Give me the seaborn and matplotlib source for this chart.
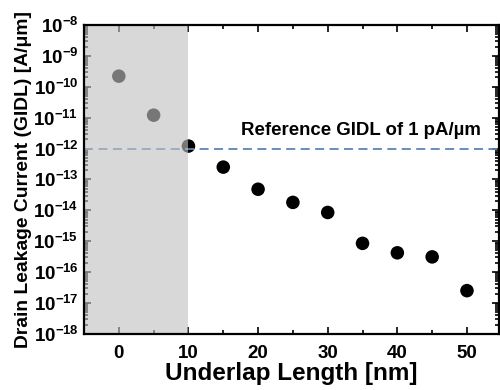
import numpy as np
import pandas as pd
import seaborn as sns
import matplotlib
matplotlib.use("Agg")
from matplotlib import pyplot as plt
from matplotlib import ticker

# data
underlap_nm = [0, 5, 10, 15, 20, 25, 30, 35, 40, 45, 50]
gidl_a_per_um = [2.2e-10, 1.2e-11, 1.2e-12, 2.5e-13, 4.8e-14, 1.8e-14,
                 8.5e-15, 8.5e-16, 4.2e-16, 3.1e-16, 2.5e-17]
ref_gidl = 1e-12
shade_span = [-5, 10]
y_decades = list(range(-18, -7))

df = pd.DataFrame({"x": underlap_nm, "y": gidl_a_per_um})

sns.set_style("ticks")
plt.rcParams["font.family"] = ["Liberation Sans", "DejaVu Sans"]
plt.rcParams["mathtext.fontset"] = "custom"
plt.rcParams["mathtext.bf"] = "Liberation Sans:bold"
plt.rcParams["mathtext.rm"] = "Liberation Sans:bold"
for k in ["text.color", "axes.labelcolor", "xtick.color", "ytick.color", "axes.edgecolor"]:
    plt.rcParams[k] = "black"

fig = plt.figure(figsize=(5, 3.9), dpi=100)
ax = fig.add_axes([0.168, 0.144, 0.830, 0.792])

sns.scatterplot(data=df, x="x", y="y", ax=ax, color="black", s=95,
                edgecolor="none", zorder=2)

ax.axhline(ref_gidl, color="#5a86b5", lw=1.3, ls=(0, (5, 3)), zorder=3)
# translucent grey box over the points below 10 nm
ax.axvspan(shade_span[0], shade_span[1], color="#c1c1c1", alpha=0.62,
           lw=0, zorder=4)

ax.set_yscale("log")
ax.set_ylim(1e-18, 1e-8)
ax.set_xlim(-5, 54.6)

ax.set_yticks([10.0 ** e for e in y_decades])
ax.yaxis.set_major_formatter(ticker.FuncFormatter(
    lambda v, p: r"$\mathbf{10^{%d}}$" % round(np.log10(v))))
ax.yaxis.set_minor_locator(ticker.LogLocator(base=10, subs=np.arange(2, 10), numticks=20))
ax.yaxis.set_minor_formatter(ticker.NullFormatter())
ax.set_xticks([0, 10, 20, 30, 40, 50])
ax.xaxis.set_minor_locator(ticker.MultipleLocator(5))

ax.tick_params(which="both", direction="in", top=True, right=True,
               labelsize=13.5, width=1.2)
ax.tick_params(which="major", length=5)
ax.tick_params(which="minor", length=3)
ax.tick_params(axis="x", pad=8)
ax.tick_params(axis="y", pad=4)
for lab in ax.get_xticklabels():
    lab.set_fontweight("bold")
for sp in ax.spines.values():
    sp.set_linewidth(1.6)
    sp.set_zorder(5)

ax.text(52, 2.0e-12, "Reference GIDL of 1 pA/\u00b5m", ha="right", va="bottom",
        fontsize=13.4, fontweight="bold", zorder=6)

ax.set_xlabel("Underlap Length [nm]", fontsize=17.5, fontweight="bold", labelpad=0)
ax.set_ylabel("Drain Leakage Current (GIDL) [A/\u03bcm]", fontsize=13.9,
              fontweight="bold", labelpad=1)

fig.savefig("out.png", dpi=100)
